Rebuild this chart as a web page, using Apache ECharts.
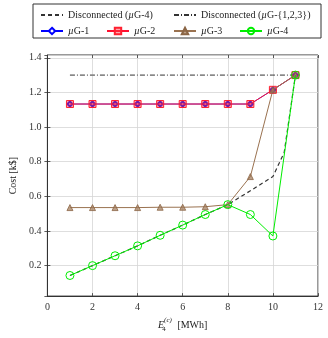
<!DOCTYPE html>
<html><head><meta charset="utf-8">
<script src="https://cdn.jsdelivr.net/npm/echarts@6/dist/echarts.min.js"></script>
<style>html,body{margin:0;padding:0;background:#fff}#c{width:328px;height:338px}</style>
</head><body><div id="c"></div>
<script>
var xs = [1,2,3,4,5,6,7,8,9,10,11];
var g1 = [1.133,1.133,1.133,1.133,1.133,1.133,1.133,1.133,1.133,1.215,1.30];
var g2 = [1.133,1.133,1.133,1.133,1.133,1.133,1.133,1.133,1.133,1.215,1.30];
var g3 = [0.535,0.535,0.535,0.535,0.537,0.537,0.54,0.552,0.714,1.215,1.30];
var g4 = [0.143,0.2,0.257,0.314,0.375,0.434,0.495,0.552,0.495,0.371,1.30];
var disc4X = [1,2,3,4,5,6,7,8,9,10,10.5,11];
var disc4 = [0.143,0.2,0.257,0.314,0.375,0.434,0.495,0.552,0.632,0.714,0.853,1.30];
var disc123 = [1.3,1.3,1.3,1.3,1.3,1.3,1.3,1.3,1.3,1.3,1.3];
var xTicks = [0,2,4,6,8,10,12];
var yTicks = [0.2,0.4,0.6,0.8,1.0,1.2,1.4];

function pairs(x, y){ return x.map(function(v,i){ return [v, y[i]]; }); }
var FONT = 'Liberation Serif';
var chart = echarts.init(document.getElementById('c'), null, {renderer:'canvas'});
function yFmt(v){
  for (var i=0;i<yTicks.length;i++) if (Math.abs(v-yTicks[i])<1e-6) return yTicks[i].toFixed(1);
  return '';
}
var rich = { i:{fontStyle:'italic', fontFamily:FONT, fontSize:10, color:'#222'} };
function legendItem(name, left, top){
  return { data:[name], left:left, top:top, padding:0, itemWidth:22, itemHeight:8, itemGap:0,
    textStyle:{fontFamily:FONT, fontSize:10, color:'#222', rich:rich},
    formatter:function(n){ return n.replace('µ','{i|µ}'); } };
}
var tickStyle = {show:true, inside:true, length:3, lineStyle:{color:'#333', width:0.8}};
var clear = 'rgba(0,0,0,0)';
var option = {
  animation:false,
  backgroundColor:'#fff',
  grid:{left:35, right:10, top:55, bottom:39, containLabel:false, show:true, borderColor:'#333', borderWidth:1},
  legend:[
    legendItem('Disconnected (µG-4)', 40, 10),
    legendItem('Disconnected (µG-{1,2,3})', 173, 10),
    legendItem('µG-1', 40, 26),
    legendItem('µG-2', 106, 26),
    legendItem('µG-3', 173, 26),
    legendItem('µG-4', 239, 26)
  ],
  graphic:[{type:'rect', shape:{x:33, y:4, width:288, height:34}, style:{fill:'none', stroke:'#333', lineWidth:1}, z:100}],
  xAxis:[{
    type:'value', min:0, max:12, interval:2,
    axisLine:{show:true, lineStyle:{color:'#333', width:1}},
    axisTick:tickStyle,
    axisLabel:{fontFamily:FONT, fontSize:10, color:'#333', margin:6},
    splitLine:{show:true, lineStyle:{color:'#d6d6d6', width:0.8}},
    name:'{i|E}{s|4}{p|(c)} [MWh]', nameLocation:'middle', nameGap:9,
    nameTextStyle:{fontFamily:FONT, fontSize:10, color:'#222', verticalAlign:'top',
      rich:{i:{fontStyle:'italic', fontFamily:FONT, fontSize:10, color:'#222'},
            s:{fontFamily:FONT, fontSize:7, color:'#222', width:0, verticalAlign:'bottom', padding:[9,0,0,0]},
            p:{fontStyle:'italic', fontFamily:FONT, fontSize:7, color:'#222', verticalAlign:'top', padding:[0,3,6,0]}}}
  },{
    type:'value', position:'top', min:0, max:12, interval:2,
    axisLine:{show:false}, axisTick:tickStyle, axisLabel:{show:false}, splitLine:{show:false}
  }],
  yAxis:[{
    type:'value', min:0.024, max:1.416, splitNumber:7,
    axisLine:{show:true, lineStyle:{color:'#333', width:1}},
    axisTick:tickStyle,
    axisLabel:{fontFamily:FONT, fontSize:10, color:'#333', margin:6, formatter:yFmt, showMinLabel:false, showMaxLabel:false},
    splitLine:{show:true, lineStyle:{color:'#d6d6d6', width:0.8}},
    name:'Cost [k$]', nameLocation:'middle', nameGap:21, nameRotate:90,
    nameTextStyle:{fontFamily:FONT, fontSize:10, color:'#222'}
  },{
    type:'value', position:'right', min:0.024, max:1.416, splitNumber:7,
    axisLine:{show:false}, axisTick:tickStyle, axisLabel:{show:false}, splitLine:{show:false}
  }],
  series:[
    {name:'Disconnected (µG-4)', type:'line', data:pairs(disc4X, disc4), symbol:'none', z:3,
      lineStyle:{color:'#333', width:1.2, type:[4,3]}, itemStyle:{color:clear, borderColor:clear, borderWidth:0}},
    {name:'Disconnected (µG-{1,2,3})', type:'line', data:pairs(xs, disc123), symbol:'none', z:3,
      lineStyle:{color:'#333', width:1, type:[5,2,1,2]}, itemStyle:{color:clear, borderColor:clear, borderWidth:0}},
    {name:'µG-1', type:'line', data:pairs(xs, g1), symbol:'emptyDiamond', symbolSize:5, z:4,
      lineStyle:{color:'#0000ff', width:0.8}, itemStyle:{color:'#0000ff', borderColor:'#0000ff', borderWidth:1}},
    {name:'µG-2', type:'line', data:pairs(xs, g2), symbol:'rect', symbolSize:7, z:5,
      lineStyle:{color:'#ff1030', width:1}, itemStyle:{color:'rgba(255,60,70,0.45)', borderColor:'#ff2030', borderWidth:1}},
    {name:'µG-3', type:'line', data:pairs(xs, g3), symbol:'triangle', symbolSize:6, z:6,
      lineStyle:{color:'#9a7250', width:1}, itemStyle:{color:'rgba(160,120,85,0.7)', borderColor:'#8a6545', borderWidth:0.8}},
    {name:'µG-4', type:'line', data:pairs(xs, g4), symbol:'circle', symbolSize:8, z:7,
      lineStyle:{color:'#00ee00', width:1}, itemStyle:{color:clear, borderColor:'#00ee00', borderWidth:1}}
  ]
};
chart.setOption(option);
</script></body></html>
